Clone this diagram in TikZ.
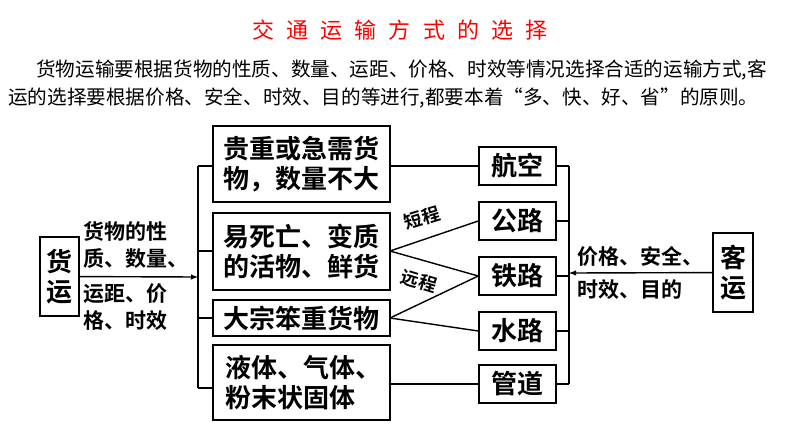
\documentclass[tikz,border=0pt]{standalone}
\usepackage{fontspec}
\newfontfamily\cjk{Noto Sans CJK SC}
\newfontfamily\cjkb{Noto Sans CJK SC Bold}
\newfontfamily\cjkspaced[LetterSpace=55]{Noto Sans CJK SC}
\begin{document}
\begin{tikzpicture}
[
  x=1pt,
  y=-1pt,
  box/.style={draw,line width=1.5pt,inner sep=0pt},
  big/.style={font=\cjkb\fontsize{26}{30}\selectfont,align=left},
  side/.style={font=\cjkb\fontsize{21}{27}\selectfont,align=left},
  link/.style={line width=1.4pt}
]
\useasboundingbox (0,0) rectangle (794,447);

% Title and text
\node[red,font=\cjkspaced\fontsize{22}{24}\selectfont] (title) at (400,30) {交通运输方式的选择};
\node[anchor=west,font=\cjk\fontsize{19.6}{22}\selectfont,inner sep=0pt] (line1) at (36,70) {货物运输要根据货物的性质、数量、运距、价格、时效等情况选择合适的运输方式,客};
\node[anchor=west,font=\cjk\fontsize{19.6}{22}\selectfont,inner sep=0pt] (line2) at (8,98) {运的选择要根据价格、安全、时效、目的等进行,都要本着“多、快、好、省”的原则。};

% Left boxes
\draw[box] (213,126) rectangle (390,202);
\node[big] (valuable) at (301.5,164) {贵重或急需货\\物，数量不大};
\draw[box] (213,213) rectangle (390,290);
\node[big] (fresh) at (301.5,251.5) {易死亡、变质\\的活物、鲜货};
\draw[box] (213,300) rectangle (390,336);
\node[big] (bulk) at (301.5,318) {大宗笨重货物};
\draw[box] (213,345) rectangle (390,420);
\node[big] (liquid) at (301.5,382.5) {\,液体、气体、\\\,粉末状固体};

% Right boxes
\foreach \name/\txt/\yy in {air/航空/166, road/公路/221, rail/铁路/276, water/水路/331, pipe/管道/384} {
  \node[box,big,minimum width=77pt,minimum height=38pt] (\name) at (517.5,\yy) {\txt};
}

% Freight and passenger
\node[box,big,minimum width=39pt,minimum height=79pt,align=center] (freight) at (59.5,276.5) {货\\运};
\node[box,big,minimum width=40pt,minimum height=79pt,align=center] (passenger) at (733,272.5) {客\\运};

% Brackets
\coordinate (lb) at (198,277);
\coordinate (rb) at (569,273);
\draw[link] (198,166) -- (198,388);
\foreach \y in {166,251,318,388} \draw[link] (198,\y) -- (213,\y);
\draw[link] (569,166) -- (569,384);
\foreach \y in {166,221,276,331,384} \draw[link] (556,\y) -- (569,\y);
\draw[link,-latex] (freight) -- (lb);
\draw[link,-latex] (passenger) -- (rb);
\node[side,anchor=south west] (crit1) at (80,272) {货物的性\\质、数量、};
\node[side,anchor=north west] (crit2) at (80,280) {运距、价\\格、时效};
\node[side,anchor=south west] (crit3) at (574,270) {价格、安全、};
\node[side,anchor=north west] (crit4) at (574,276) {时效、目的};

% Links
\draw[link] (390,166) -- (air);
\draw[link] (390,251) -- (road.west);
\draw[link] (390,251) -- (rail.west);
\draw[link] (390,318) -- (rail.west);
\draw[link] (390,318) -- (water.west);
\draw[link] (390,384) -- (pipe);
\node[font=\cjkb\fontsize{18}{20}\selectfont,rotate=17] (short) at (422,218) {短程};
\node[font=\cjkb\fontsize{18}{20}\selectfont,rotate=-17] (long) at (419,281) {远程};
\end{tikzpicture}
\end{document}
